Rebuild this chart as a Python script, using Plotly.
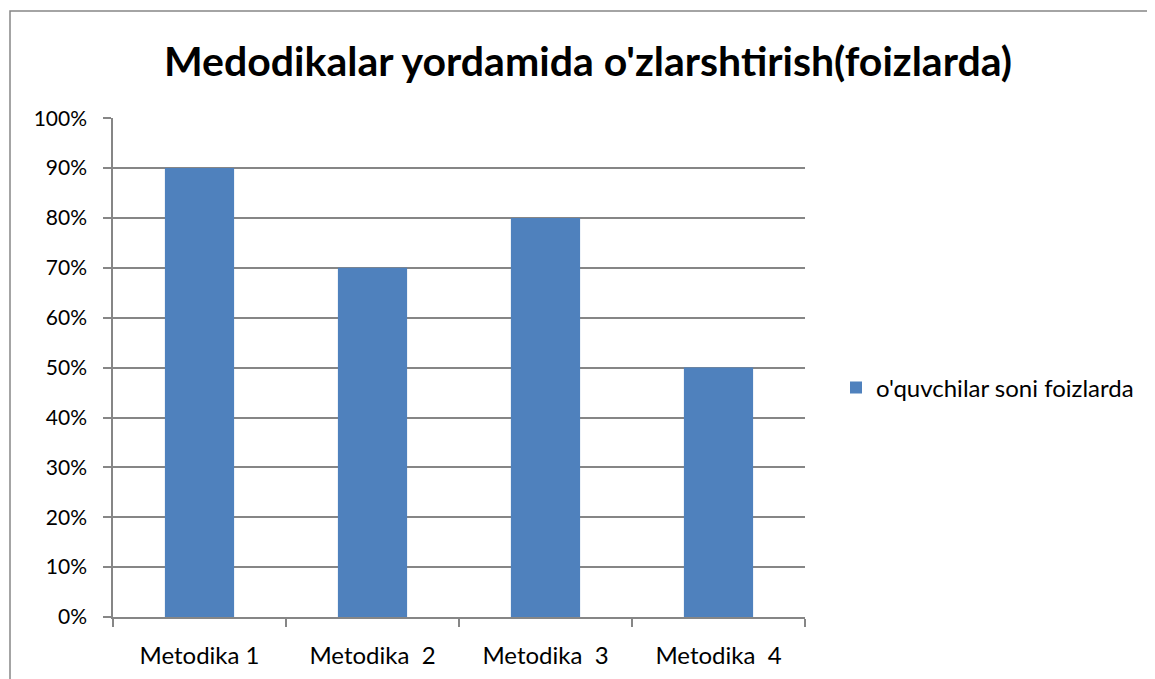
import plotly.graph_objects as go

categories = ["Metodika 1", "Metodika\u00a0 2", "Metodika\u00a0 3", "Metodika\u00a0 4"]
values = [0.90, 0.70, 0.80, 0.50]
series_name = "o'quvchilar soni foizlarda"
title_text = "Medodikalar yordamida o'zlarshtirish(foizlarda)"

# page body has an 8px margin; work in reference pixel coords minus offset
OFF = 8
W, H = 1155 - OFF, 679 - OFF
L, R, T, B = 113 - OFF, 805 - OFF, 118 - OFF, 617 - OFF
pw, ph = R - L, B - T

font_family = "Lato, Carlito, Calibri, sans-serif"

fig = go.Figure()
fig.add_trace(go.Bar(
    x=categories, y=values, name=series_name,
    marker=dict(color="#4F81BD", line=dict(width=0)),
    width=0.4, showlegend=True,
))

fig.update_layout(
    width=W, height=H,
    margin=dict(l=L, r=W - R, t=T, b=H - B, pad=0, autoexpand=False),
    paper_bgcolor="white", plot_bgcolor="white",
    font=dict(family=font_family, size=21, color="black"),
    title=dict(text="<b>" + title_text + "</b>", x=(588 - OFF) / W, xanchor="center",
               y=1 - (62 - OFF) / H, yanchor="middle",
               font=dict(family=font_family, size=41, color="black")),
    showlegend=True,
    legend=dict(x=(836 - OFF - L) / pw, y=(B - (388 - OFF)) / ph, xanchor="left", yanchor="middle",
                font=dict(size=24), bgcolor="rgba(0,0,0,0)", itemwidth=30),
    bargap=0.6,
)
fig.update_xaxes(
    type="category", showgrid=False, showline=True, linecolor="#868686", linewidth=1.5,
    ticks="outside", tickson="boundaries", ticklen=8, tickcolor="#868686", tickwidth=1.5,
    tickfont=dict(size=24), ticklabelstandoff=16,
)
fig.update_yaxes(
    range=[0, 1.0005], dtick=0.1, tick0=0, tickformat=".0%",
    showgrid=True, gridcolor="#868686", gridwidth=1.5,
    showline=True, linecolor="#868686", linewidth=1.5,
    ticks="outside", ticklen=8, tickcolor="#868686", tickwidth=1.5,
    tickfont=dict(size=21), zeroline=False, ticklabelstandoff=12,
)

# chart area border
fig.add_shape(type="rect", xref="paper", yref="paper",
              x0=(10 - OFF - L) / pw, x1=(1300 - L) / pw,
              y0=(B - 800) / ph, y1=(B - (11 - OFF)) / ph,
              line=dict(color="#868686", width=1.5), fillcolor="rgba(0,0,0,0)", layer="below")

fig.write_html("out.html")
